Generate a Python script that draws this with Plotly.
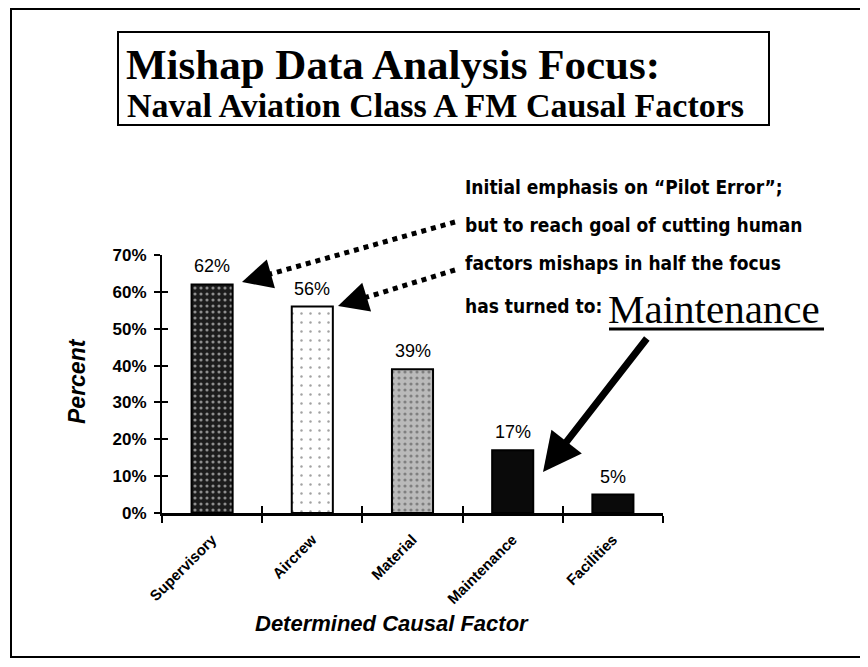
import plotly.graph_objects as go

categories = ["Supervisory", "Aircrew", "Material", "Maintenance", "Facilities"]
percents = [62, 56, 39, 17, 5]
y_ticks = [0, 10, 20, 30, 40, 50, 60, 70]
bar_fill = ["#1c1c1c", "#ffffff", "#bababa", "#0a0a0a", "#0a0a0a"]
bar_dots = ["#6e6e6e", "#b8b8b8", "#8a8a8a", "#0a0a0a", "#0a0a0a"]
bar_texture = [".", ".", ".", "", ""]
texture_size = [6, 9, 6, 6, 6]
texture_solidity = [0.22, 0.06, 0.22, 0.2, 0.2]

title_lines = ["Mishap Data Analysis Focus:", "Naval Aviation Class A FM Causal Factors"]
note_lines = ["Initial emphasis on “Pilot Error”;",
              "but to reach goal of cutting human",
              "factors mishaps in half the focus",
              "has turned to:"]
focus_word = "Maintenance"
x_title = "Determined Causal Factor"
y_title = "Percent"

W, H = 868, 667
OFF = 8  # page body margin
L, R, T, B = 162, 663, 255, 513  # plot area in page pixels


def px(x):
    return (x - L) / (R - L)


def py(y):
    return (B - y) / (B - T)


sans = "Liberation Sans, Arial, sans-serif"
serif = "Liberation Serif, Times New Roman, serif"
narrow = "DejaVu Sans Condensed, Liberation Sans Narrow, Arial Narrow, sans-serif"

fig = go.Figure()

fig.add_trace(go.Bar(
    x=categories, y=percents,
    width=0.41,
    marker=dict(
        color=bar_fill,
        line=dict(color="black", width=2),
        pattern=dict(shape=bar_texture, bgcolor=bar_fill, fgcolor=bar_dots,
                     size=texture_size, solidity=texture_solidity),
    ),
    hoverinfo="x+y",
    showlegend=False,
))

# invisible trace so the overlay axes (inside tick marks) get drawn
fig.add_trace(go.Scatter(x=categories, y=[None] * len(categories), xaxis="x2", yaxis="y2",
                         showlegend=False, hoverinfo="skip"))

# value labels
for c, v in zip(categories, percents):
    fig.add_annotation(x=c, y=v, text=f"{v}%", showarrow=False, yshift=18,
                       xanchor="center", yanchor="middle",
                       font=dict(family=sans, size=18, color="black"))

# axis titles
fig.add_annotation(xref="paper", yref="paper", x=px(392), y=py(623), xanchor="center", yanchor="middle",
                   text="<b><i>" + x_title + "</i></b>", showarrow=False,
                   font=dict(family=sans, size=22, color="black"))
fig.add_annotation(xref="paper", yref="paper", x=px(77), y=py(381), xanchor="center", yanchor="middle",
                   text="<b><i>" + y_title + "</i></b>", textangle=-90, showarrow=False,
                   font=dict(family=sans, size=23, color="black"))

# title box
fig.add_shape(type="rect", xref="paper", yref="paper",
              x0=px(118), x1=px(769), y0=py(125), y1=py(32),
              line=dict(color="black", width=2))
fig.add_annotation(xref="paper", yref="paper", x=px(124), y=py(64), xanchor="left", yanchor="middle",
                   text="<b>" + title_lines[0] + "</b>", showarrow=False,
                   font=dict(family=serif, size=43, color="black"))
fig.add_annotation(xref="paper", yref="paper", x=px(125), y=py(105), xanchor="left", yanchor="middle",
                   text="<b>" + title_lines[1] + "</b>", showarrow=False,
                   font=dict(family=serif, size=34, color="black"))

# outer frame
fig.add_shape(type="rect", xref="paper", yref="paper",
              x0=px(11), x1=px(863), y0=py(657), y1=py(9),
              line=dict(color="black", width=2), layer="below")

# note text
note_y = [187, 225, 263, 306]
for line, yy in zip(note_lines, note_y):
    fig.add_annotation(xref="paper", yref="paper", x=px(463), y=py(yy), xanchor="left", yanchor="middle",
                       text="<b>" + line + "</b>", showarrow=False,
                       font=dict(family=narrow, size=19, color="black"))
fig.add_annotation(xref="paper", yref="paper", x=px(606), y=py(309), xanchor="left", yanchor="middle",
                   text=focus_word, showarrow=False,
                   font=dict(family=serif, size=41, color="black"))
fig.add_shape(type="line", xref="paper", yref="paper",
              x0=px(609), x1=px(824), y0=py(329), y1=py(329),
              line=dict(color="black", width=3))

# dotted pointer arrows
for (sx, sy), (tx, ty) in [((455, 222), (242, 282)), ((455, 270), (338, 306))]:
    dx, dy = sx - tx, sy - ty
    n = (dx * dx + dy * dy) ** 0.5
    ux, uy = dx / n, dy / n
    fig.add_shape(type="line", xref="paper", yref="paper",
                  x0=px(sx), y0=py(sy), x1=px(tx + ux * 18), y1=py(ty + uy * 18),
                  line=dict(color="black", width=5, dash="dot"))
    fig.add_annotation(xref="paper", yref="paper", x=px(tx), y=py(ty), text="",
                       showarrow=True, arrowhead=2, arrowwidth=4, arrowsize=1.5,
                       arrowcolor="black", ax=ux * 24, ay=uy * 24)

# solid arrow to Maintenance bar
fig.add_annotation(xref="paper", yref="paper", x=px(543), y=py(472), text="",
                   showarrow=True, arrowhead=2, arrowwidth=7, arrowsize=1.1,
                   arrowcolor="black", ax=648 - 543, ay=337 - 472)

fig.update_layout(
    width=W - OFF, height=H - OFF,
    margin=dict(l=L - OFF, r=W - R, t=T - OFF, b=H - B),
    paper_bgcolor="white", plot_bgcolor="white",
    font=dict(family=sans, color="black"),
    xaxis=dict(
        type="category", categoryorder="array", categoryarray=categories, range=[-0.5, 4.5],
        tickson="boundaries", ticks="outside", ticklen=7, tickwidth=2, tickcolor="black",
        showline=True, linewidth=3, linecolor="black", showgrid=False, zeroline=False,
        tickangle=-45, ticklabelstandoff=9,
        tickfont=dict(family=sans, size=15, color="black", weight="bold"),
    ),
    yaxis=dict(
        range=[0, 70], tickvals=y_ticks, ticktext=[f"{t}%" for t in y_ticks],
        ticks="outside", ticklen=6, tickwidth=2, tickcolor="black",
        showline=True, linewidth=2, linecolor="black", showgrid=False, zeroline=False,
        ticklabelstandoff=4,
        tickfont=dict(family=sans, size=17, color="black", weight="bold"),
    ),
    xaxis2=dict(
        type="category", categoryorder="array", categoryarray=categories, range=[-0.5, 4.5],
        overlaying="x", anchor="y", tickson="boundaries", ticks="inside", ticklen=7, tickwidth=2,
        tickcolor="black", showticklabels=False, showline=False, showgrid=False, zeroline=False,
    ),
    yaxis2=dict(
        range=[0, 70], tickvals=y_ticks, overlaying="y", anchor="x", side="left",
        ticks="inside", ticklen=6, tickwidth=2, tickcolor="black",
        showticklabels=False, showline=False, showgrid=False, zeroline=False,
    ),
)

fig.write_html("out.html")
